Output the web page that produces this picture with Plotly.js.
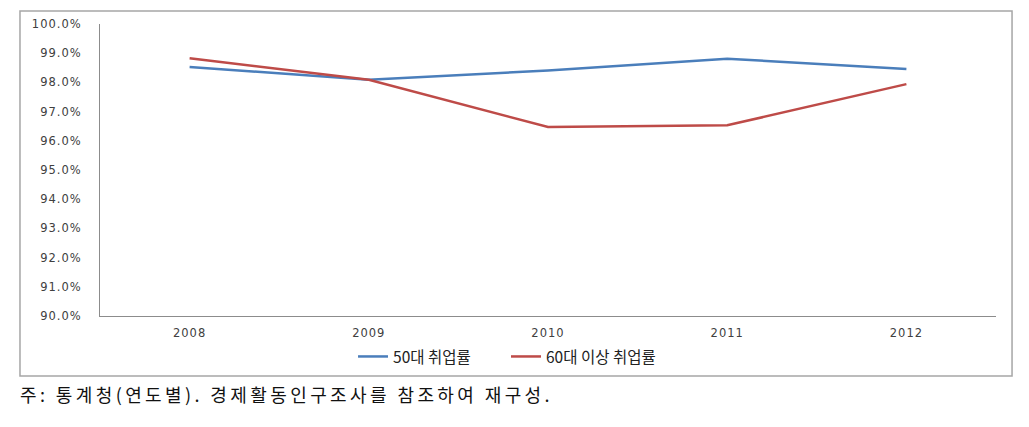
<!DOCTYPE html>
<html>
<head>
<meta charset="utf-8">
<script src="https://cdn.plot.ly/plotly-3.0.1.min.js"></script>
<style>
  body { margin: 0; background: #fff; }
  #plot { width: 1029px; height: 427px; }
  /* the source image has wide, spaced-out text */
  .xtick text, .ytick text { letter-spacing: 1px; }
  .annotation-text { letter-spacing: 3.4px; }
</style>
</head>
<body>
<div id="plot"></div>
<script>
const anos = ['2008', '2009', '2010', '2011', '2012'];
const taxa50 = [98.53, 98.09, 98.41, 98.81, 98.46];
const taxa60 = [98.83, 98.09, 96.47, 96.53, 97.94];
const nomes = ['50대 취업률', '60대 이상 취업률'];
const nota = '주: 통계청(연도별). 경제활동인구조사를 참조하여 재구성.';

const fonteEixo = { family: 'DejaVu Sans, Verdana, sans-serif', size: 11.5, color: '#404040' };
const fonteLegenda = { family: 'Noto Sans CJK KR, sans-serif', size: 15.5, color: '#222' };

const data = [
    {
        x: anos, y: taxa50, type: 'scatter', mode: 'lines', name: nomes[0],
        line: { color: '#4A7EBB', width: 2.5 },
        legend: 'legend'
    },
    {
        x: anos, y: taxa60, type: 'scatter', mode: 'lines', name: nomes[1],
        line: { color: '#BE4B48', width: 2.5 },
        legend: 'legend2'
    }
];

const layout = {
    width: 1029,
    height: 427,
    margin: { l: 100, r: 33, t: 24, b: 111 },
    paper_bgcolor: '#fff',
    plot_bgcolor: '#fff',
    showlegend: true,
    // duas legendas para acertar a posição de cada item
    legend: {
        orientation: 'h',
        x: 0.2824, xanchor: 'left',
        y: -0.14, yanchor: 'middle',
        font: fonteLegenda
    },
    legend2: {
        orientation: 'h',
        x: 0.4531, xanchor: 'left',
        y: -0.14, yanchor: 'middle',
        font: fonteLegenda
    },
    xaxis: {
        type: 'category',
        range: [-0.5, 4.5],
        showline: true, linecolor: '#8c8c8c', linewidth: 1,
        showgrid: false, zeroline: false,
        ticks: '', ticklabelstandoff: 6,
        tickfont: fonteEixo
    },
    yaxis: {
        range: [90, 100],
        dtick: 1,
        tickformat: '.1f',
        ticksuffix: '%',
        showline: true, linecolor: '#8c8c8c', linewidth: 1,
        showgrid: false, zeroline: false,
        ticks: '', ticklabelstandoff: 15,
        tickfont: fonteEixo
    },
    shapes: [{
        type: 'rect', xref: 'paper', yref: 'paper',
        x0: -0.0893, x1: 1.0179, y0: -0.2055, y1: 1.0445,
        line: { color: '#a6a6a6', width: 1.5 }
    }],
    annotations: [{
        text: nota, xref: 'paper', yref: 'paper',
        x: -0.0915, xanchor: 'left', y: -0.268, yanchor: 'middle',
        align: 'left',
        showarrow: false,
        font: { family: 'Noto Sans CJK KR, sans-serif', size: 18, color: '#111' }
    }]
};

Plotly.newPlot('plot', data, layout, { displayModeBar: false, staticPlot: true });
</script>
</body>
</html>
